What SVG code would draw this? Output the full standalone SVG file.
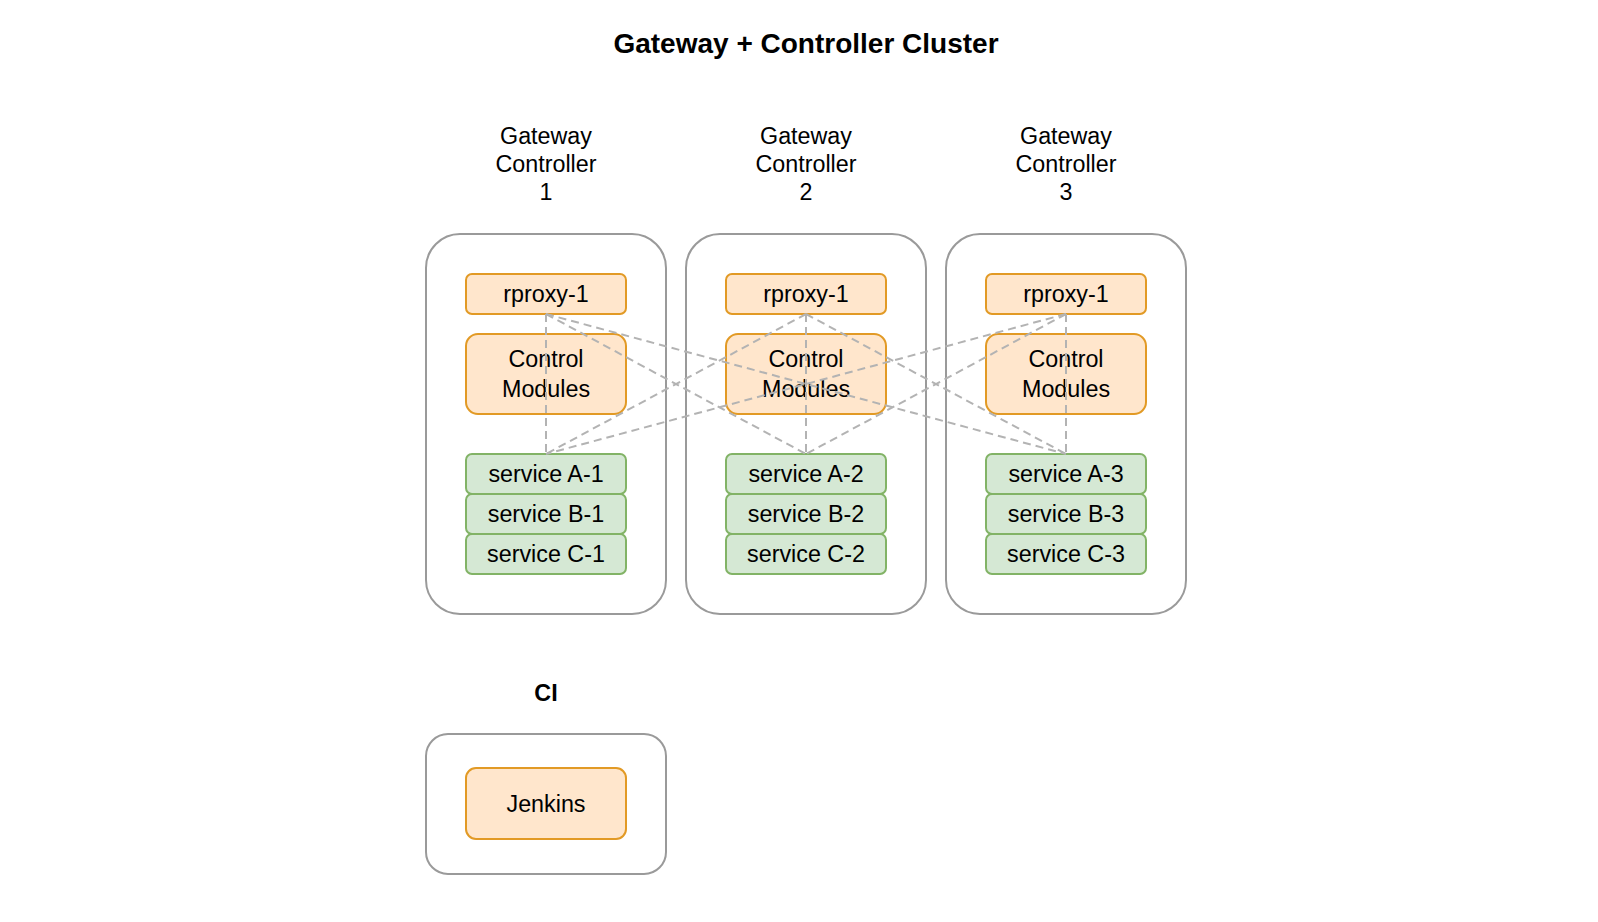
<svg xmlns="http://www.w3.org/2000/svg" width="1598" height="922" viewBox="0 0 1598 922">
  <style>
    text { font-family: "Liberation Sans", Arial, Helvetica, sans-serif; fill: #000; text-anchor: middle; }
    .t { font-size: 28px; font-weight: bold; }
    .lbl { font-size: 23.3px; }
    .b { font-size: 23.3px; font-weight: bold; }
    .ctr { fill: #ffffff; stroke: #9a9a9a; stroke-width: 2; }
    .org { fill: #ffe6cc; stroke: #e29a25; stroke-width: 2; }
    .grn { fill: #d5e8d4; stroke: #82b366; stroke-width: 2; }
    .dash { stroke: #b3b3b3; stroke-width: 2; stroke-dasharray: 8 5; fill: none; }
  </style>
  <rect width="1598" height="922" fill="#ffffff"/>

  <text class="t" x="806" y="53">Gateway + Controller Cluster</text>

  <g id="gc1">
    <text class="lbl" x="546" y="144">Gateway</text>
    <text class="lbl" x="546" y="172">Controller</text>
    <text class="lbl" x="546" y="200">1</text>
    <rect class="ctr" x="426" y="234" width="240" height="380" rx="34"/>
  </g>
  <g id="gc2">
    <text class="lbl" x="806" y="144">Gateway</text>
    <text class="lbl" x="806" y="172">Controller</text>
    <text class="lbl" x="806" y="200">2</text>
    <rect class="ctr" x="686" y="234" width="240" height="380" rx="34"/>
  </g>
  <g id="gc3">
    <text class="lbl" x="1066" y="144">Gateway</text>
    <text class="lbl" x="1066" y="172">Controller</text>
    <text class="lbl" x="1066" y="200">3</text>
    <rect class="ctr" x="946" y="234" width="240" height="380" rx="34"/>
  </g>

  <g id="rproxy1"><rect class="org" x="466" y="274" width="160" height="40" rx="6"/><text class="lbl" x="546" y="302">rproxy-1</text></g>
  <g id="rproxy2"><rect class="org" x="726" y="274" width="160" height="40" rx="6"/><text class="lbl" x="806" y="302">rproxy-1</text></g>
  <g id="rproxy3"><rect class="org" x="986" y="274" width="160" height="40" rx="6"/><text class="lbl" x="1066" y="302">rproxy-1</text></g>

  <g id="cm1"><rect class="org" x="466" y="334" width="160" height="80" rx="12"/><text class="lbl" x="546" y="367">Control</text><text class="lbl" x="546" y="396.5">Modules</text></g>
  <g id="cm2"><rect class="org" x="726" y="334" width="160" height="80" rx="12"/><text class="lbl" x="806" y="367">Control</text><text class="lbl" x="806" y="396.5">Modules</text></g>
  <g id="cm3"><rect class="org" x="986" y="334" width="160" height="80" rx="12"/><text class="lbl" x="1066" y="367">Control</text><text class="lbl" x="1066" y="396.5">Modules</text></g>

  <g id="sa1"><rect class="grn" x="466" y="454" width="160" height="40" rx="6"/><text class="lbl" x="546" y="482">service A-1</text></g>
  <g id="sb1"><rect class="grn" x="466" y="494" width="160" height="40" rx="6"/><text class="lbl" x="546" y="522">service B-1</text></g>
  <g id="sc1"><rect class="grn" x="466" y="534" width="160" height="40" rx="6"/><text class="lbl" x="546" y="562">service C-1</text></g>

  <g id="sa2"><rect class="grn" x="726" y="454" width="160" height="40" rx="6"/><text class="lbl" x="806" y="482">service A-2</text></g>
  <g id="sb2"><rect class="grn" x="726" y="494" width="160" height="40" rx="6"/><text class="lbl" x="806" y="522">service B-2</text></g>
  <g id="sc2"><rect class="grn" x="726" y="534" width="160" height="40" rx="6"/><text class="lbl" x="806" y="562">service C-2</text></g>

  <g id="sa3"><rect class="grn" x="986" y="454" width="160" height="40" rx="6"/><text class="lbl" x="1066" y="482">service A-3</text></g>
  <g id="sb3"><rect class="grn" x="986" y="494" width="160" height="40" rx="6"/><text class="lbl" x="1066" y="522">service B-3</text></g>
  <g id="sc3"><rect class="grn" x="986" y="534" width="160" height="40" rx="6"/><text class="lbl" x="1066" y="562">service C-3</text></g>

  <g id="ci">
    <text class="b" x="546" y="701">CI</text>
    <rect class="ctr" x="426" y="734" width="240" height="140" rx="22"/>
  </g>
  <g id="jenkins"><rect class="org" x="466" y="768" width="160" height="71" rx="10"/><text class="lbl" x="546" y="812">Jenkins</text></g>

  <g id="connectors">
    <line class="dash" x1="546" y1="314" x2="546" y2="454"/>
    <line class="dash" x1="546" y1="314" x2="806" y2="454"/>
    <line class="dash" x1="546" y1="314" x2="1066" y2="454"/>
    <line class="dash" x1="806" y1="314" x2="546" y2="454"/>
    <line class="dash" x1="806" y1="314" x2="806" y2="454"/>
    <line class="dash" x1="806" y1="314" x2="1066" y2="454"/>
    <line class="dash" x1="1066" y1="314" x2="546" y2="454"/>
    <line class="dash" x1="1066" y1="314" x2="806" y2="454"/>
    <line class="dash" x1="1066" y1="314" x2="1066" y2="454"/>
  </g>
</svg>
